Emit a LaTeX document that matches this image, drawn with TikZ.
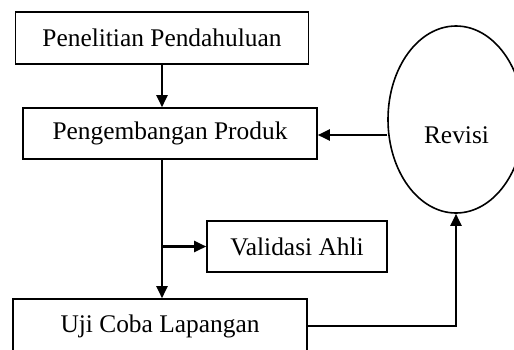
\documentclass[tikz,border=0pt]{standalone}
\usepackage{fontspec}
\setmainfont{Liberation Serif}
\usetikzlibrary{shapes.geometric,arrows.meta}
\begin{document}
\begin{tikzpicture}[x=1pt,y=-1pt,
  box/.style={draw,line width=1.6pt,inner sep=0pt,font=\fontsize{25.4}{30}\selectfont},
  conn/.style={line width=2.2pt,-{Triangle[length=12pt,width=11pt]}},
  lbl/.style={inner sep=0pt,font=\fontsize{25.4}{30}\selectfont}]
\useasboundingbox (0,0) rectangle (514,349);
\node[box,minimum width=293pt,minimum height=52pt] (b1) at (162,38) {Penelitian Pendahuluan};
\node[box,minimum width=294pt,minimum height=51pt] (b2) at (170,133.5) {Pengembangan Produk};
\node[box,minimum width=180pt,minimum height=51pt] (va) at (297,246.5) {Validasi Ahli};
\node[box,minimum width=294pt,minimum height=54pt] (b4) at (160,326) {Uji Coba Lapangan};
\node[draw,ellipse,line width=1.6pt,inner sep=0pt,minimum width=136pt,minimum height=187pt] (rev) at (456,119.5) {};
\node[lbl] (revt) at (456.5,135) {Revisi};
\coordinate (br) at (b1.south |- va.west);
\draw[conn] (b1.south) -- (b1.south |- b2.north);
\draw[line width=2.2pt] (b1.south |- b2.south) -- (br);
\draw[conn] (br) -- (b1.south |- b4.north);
\draw[conn] (br) -- (va.west);
\draw[conn] (rev.west |- revt) -- (b2.east |- revt);
\draw[conn] (b4.east) -| (rev.south);
\end{tikzpicture}
\end{document}
